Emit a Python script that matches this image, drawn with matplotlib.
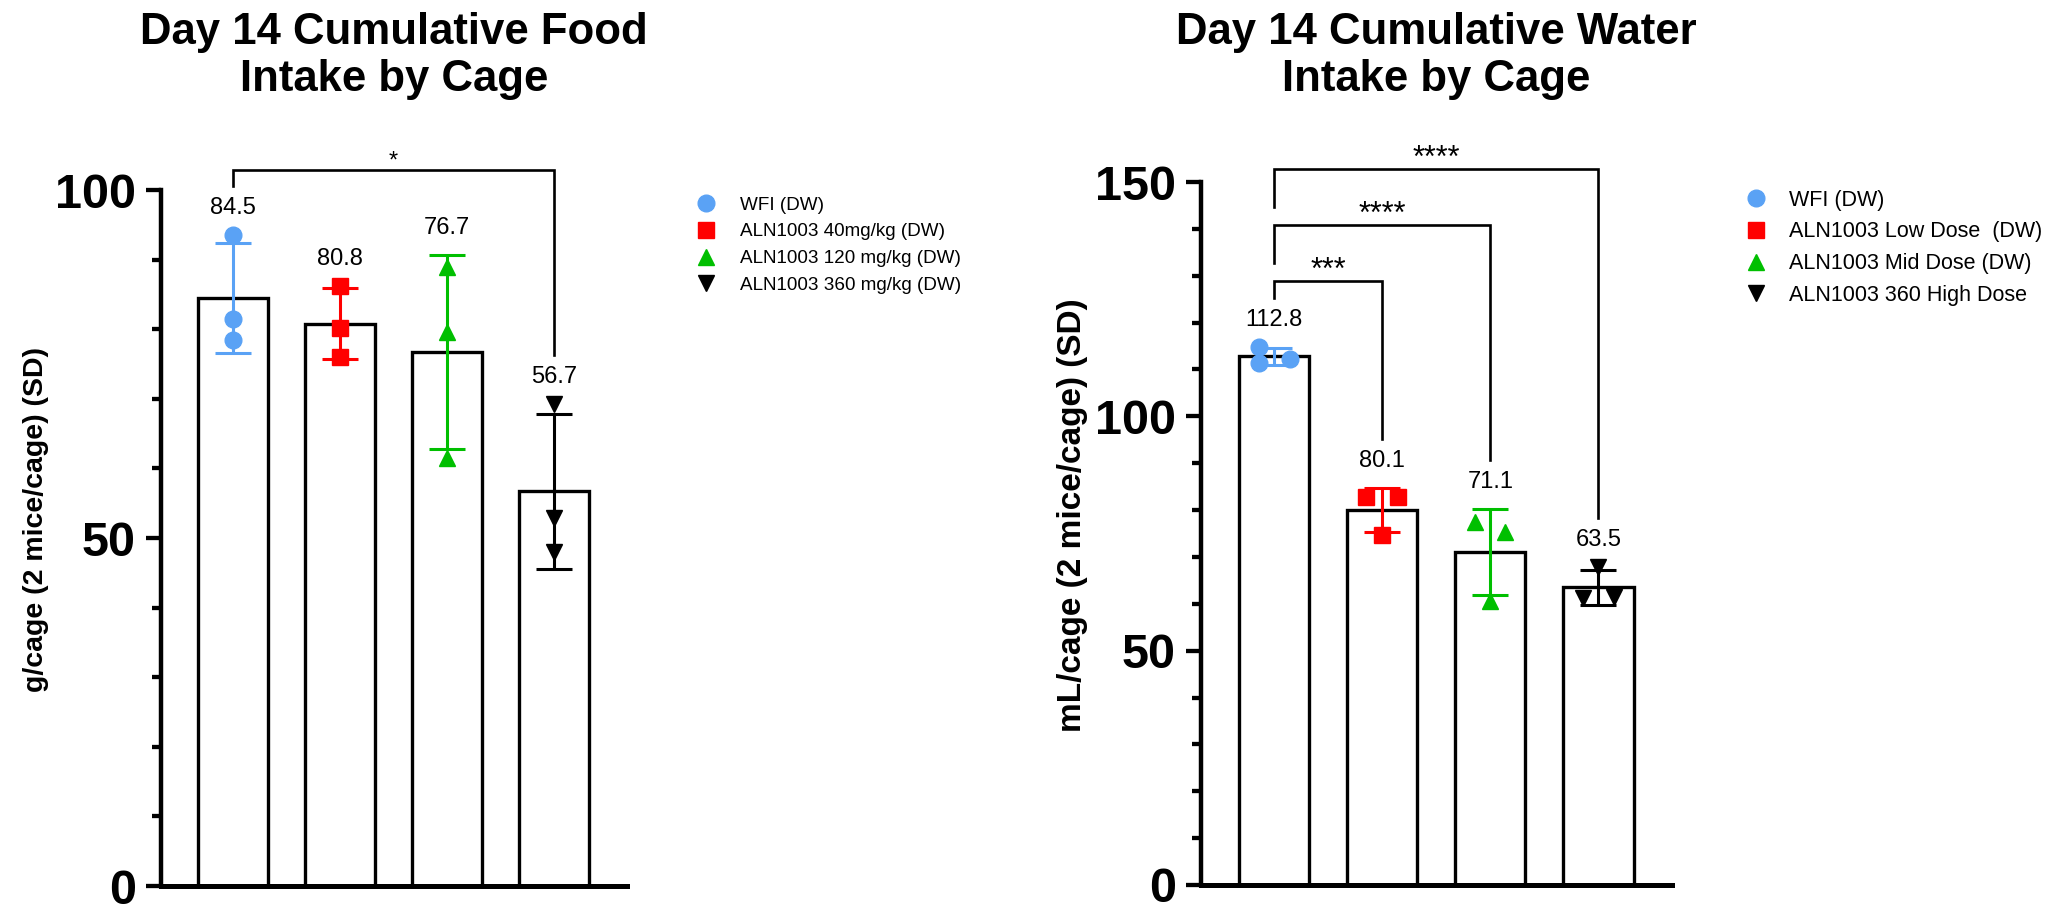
##################################################
## Day 14 cumulative food / water intake by cage
##################################################
import numpy as np
import matplotlib
matplotlib.use('Agg')
import matplotlib.pyplot as plt

plt.rcParams['font.family'] = ['Liberation Sans', 'DejaVu Sans']

##################################################
## data
##################################################
food_labels = ['WFI (DW)', 'ALN1003 40mg/kg (DW)',
               'ALN1003 120 mg/kg (DW)', 'ALN1003 360 mg/kg (DW)']
water_labels = ['WFI (DW)', 'ALN1003 Low Dose  (DW)',
                'ALN1003 Mid Dose (DW)', 'ALN1003 360 High Dose']

# g/cage, one value per cage
food_wfi = [93.5, 81.5, 78.5]
food_40 = [86.2, 80.2, 76.0]
food_120 = [89.0, 79.6, 61.5]
food_360 = [69.2, 52.9, 48.0]

# mL/cage, one value per cage
water_wfi = [114.9, 111.3, 112.2]
water_low = [82.8, 82.8, 74.7]
water_mid = [77.4, 75.3, 60.6]
water_high = [67.8, 61.2, 61.5]

# horizontal scatter of the cage points
food_jitter = [[0, 0, 0], [0, 0, 0], [0, 0, 0], [0, 0, 0]]
water_jitter = [[-0.14, -0.14, 0.15], [-0.15, 0.15, 0],
                [-0.14, 0.14, 0], [0, -0.14, 0.14]]

# significance brackets (group a vs group b)
food_pairs = [(0, 3)]
food_stars = ['*']
water_pairs = [(0, 1), (0, 2), (0, 3)]
water_stars = ['***', '****', '****']

##################################################
## style
##################################################
colors = ['#5aa2f5', '#ff0000', '#00bf00', '#000000']
markers = ['o', 's', '^', 'v']
W, H = 2066, 907

fig = plt.figure(figsize=(W / 100, H / 100), dpi=100)


def panel(rect, groups, jitter, labels, ymax, pairs, stars, star_size,
          ylabel, ylabel_size, ylabel_xy, title, leg_size, leg_xy, leg_hl):
    ax = fig.add_axes(rect)
    upp = ymax / (rect[3] * H)      # data units per pixel
    x = np.arange(len(groups))
    means = [np.mean(g) for g in groups]
    sds = [np.std(g, ddof=1) for g in groups]

    ax.bar(x, means, width=0.65, color='white', edgecolor='black',
           linewidth=2.4, zorder=1)
    handles = []
    label_c = []
    for i, g in enumerate(groups):
        ax.errorbar(x[i], means[i], yerr=sds[i], color=colors[i],
                    elinewidth=2.2, capsize=13, capthick=2.2, zorder=2)
        h, = ax.plot(x[i] + np.array(jitter[i]), g, linestyle='none',
                     marker=markers[i], ms=12, color=colors[i], zorder=3,
                     clip_on=False)
        handles.append(h)
        top = max(max(g), means[i] + sds[i])
        c = top + 27 * upp
        label_c.append(c)
        ax.text(x[i], c, '%.1f' % means[i], ha='center', va='center',
                fontsize=17)

    # brackets
    prev = None
    for (a, b), s in zip(pairs, stars):
        if prev is None:
            lb = label_c[a] + 22 * upp
            lev = lb + 16.5 * upp
        else:
            lb = prev + 18 * upp
            lev = prev + 56 * upp
        rb = label_c[b] + 22 * upp
        ax.plot([a, a, b, b], [lb, lev, lev, rb], color='black', lw=1.9,
                clip_on=False, solid_joinstyle='miter')
        ax.text((a + b) / 2, lev + 2 * upp, s, ha='center', va='baseline',
                fontsize=star_size)
        prev = lev

    ax.set_xlim(-0.675, len(groups) - 1 + 0.68)
    ax.set_ylim(0, ymax)
    ax.set_yticks(np.arange(0, ymax + 1, 50))
    ax.set_yticks(np.arange(0, ymax + 1, 10), minor=True)
    ax.tick_params(axis='y', which='major', length=11, width=3.1, pad=7,
                   labelsize=35)
    ax.tick_params(axis='y', which='minor', length=6.5, width=3.1)
    for lab in ax.get_yticklabels():
        lab.set_fontweight('bold')
    ax.tick_params(axis='x', length=0, labelbottom=False)
    ax.spines[['top', 'right']].set_visible(False)
    ax.spines['left'].set_linewidth(3.2)
    ax.spines['bottom'].set_linewidth(3.6)

    fig.text(ylabel_xy[0] / W, 1 - ylabel_xy[1] / H, ylabel, rotation=90,
             ha='center', va='center', fontweight='bold', fontsize=ylabel_size)
    fig.text(rect[0] + rect[2] / 2, 1 - 12 / H, title, ha='center', va='top',
             fontweight='bold', fontsize=31.5)
    fig.legend(handles, labels, loc='upper left', frameon=False,
               bbox_to_anchor=(leg_xy[0] / W, 1 - leg_xy[1] / H),
               bbox_transform=fig.transFigure, borderaxespad=0,
               fontsize=leg_size, handlelength=leg_hl, labelspacing=0.5)
    return ax


ax1 = panel([160.7 / W, 1 - 886 / H, 466.3 / W, 696 / H],
            [food_wfi, food_40, food_120, food_360], food_jitter, food_labels,
            100, food_pairs, food_stars, 17,
            'g/cage (2 mice/cage) (SD)', 20.5, (36, 519),
            'Day 14 Cumulative Food\nIntake by Cage', 13.6, (680, 189), 2.0)

ax2 = panel([1201 / W, 1 - 885 / H, 471 / W, 703 / H],
            [water_wfi, water_low, water_mid, water_high], water_jitter,
            water_labels, 150, water_pairs, water_stars, 22,
            'mL/cage (2 mice/cage) (SD)', 24, (1072, 515),
            'Day 14 Cumulative Water\nIntake by Cage', 15.5, (1731, 181), 1.5)

fig.savefig('out.png', dpi=100)
